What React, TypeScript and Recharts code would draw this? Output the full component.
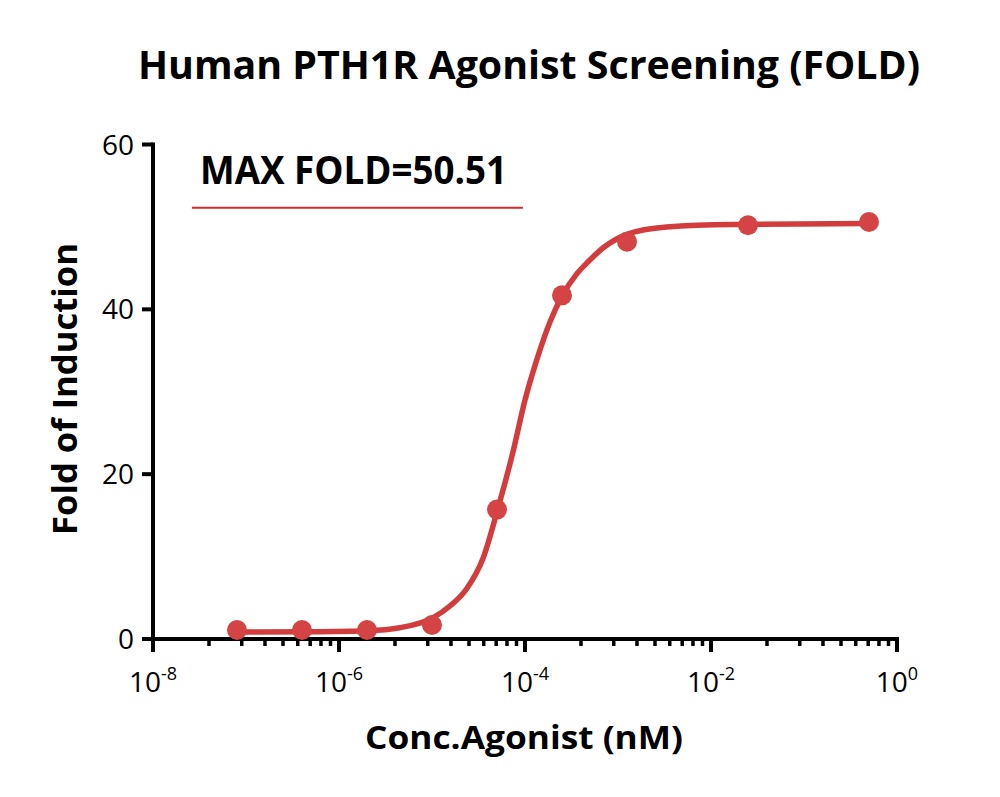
import React from "react";
import { ComposedChart, Line, Scatter, XAxis, YAxis, ReferenceLine } from "recharts";

// Measured data points (concentration in nM, fold of induction)
const concentrations = [8e-8, 4e-7, 2e-6, 1e-5, 5e-5, 2.5e-4, 1.25e-3, 0.025, 0.5];
const foldValues = [1.09, 1.09, 1.09, 1.7, 15.7, 41.7, 48.2, 50.2, 50.6];

// Fitted curve
const curveConc = [8e-8, 1.1e-7, 5.75e-7, 2e-6, 4.5e-6, 1.03e-5, 1.56e-5, 2.36e-5, 3.54e-5, 5.1e-5, 7.5e-5, 1e-4, 1.34e-4, 1.86e-4, 2.5e-4, 3.6e-4, 4.8e-4, 7e-4, 1.24e-3, 3.34e-3, 1.73e-2, 0.5];
const curveFold = [0.85, 0.85, 0.89, 1.0, 1.37, 2.6, 4.0, 6.1, 9.8, 15.8, 22.9, 29.0, 33.9, 38.5, 41.6, 44.3, 45.8, 47.5, 49.1, 50.0, 50.3, 50.4];

const yTicks = [0, 20, 40, 60];
// Major ticks every two decades; minor ticks at k^2 times each major value
const majorExponents = [-8, -6, -4, -2, 0];
const minorFactors = [4, 9, 16, 25, 36, 49, 64, 81];

const title = "Human PTH1R Agonist Screening (FOLD)";
const xLabel = "Conc.Agonist (nM)";
const yLabel = "Fold of Induction";
const maxFoldLabel = "MAX FOLD=50.51";
const maxFoldLineY = 52.34;
const maxFoldLineX = [2.62e-8, 9.5e-5];

const pointData = concentrations.map((x, i) => ({ x, y: foldValues[i] }));
const curveData = curveConc.map((x, i) => ({ x, y: curveFold[i] }));

const xTicks: number[] = [];
majorExponents.forEach((d) => {
  xTicks.push(Math.pow(10, d));
  if (d < 0) minorFactors.forEach((m) => xTicks.push(m * Math.pow(10, d)));
});

const RED = "#d23c3c";
const FONT = "'Open Sans', 'DejaVu Sans', sans-serif";

const XTick = (props: any) => {
  const { x, y, payload } = props;
  const v = payload.value;
  const lg = Math.log10(v);
  const exp = Math.round(lg);
  const isMajor = Math.abs(lg - exp) < 1e-6 && exp % 2 === 0;
  return (
    <g>
      <line x1={x} x2={x} y1={y} y2={y + (isMajor ? 13 : 7)} stroke="#000" strokeWidth={isMajor ? 4 : 3.5} />
      {isMajor && (
        <text x={x} y={y + 53} textAnchor="middle" fontFamily={FONT} fill="#000">
          <tspan fontSize={28}>10</tspan>
          <tspan fontSize={18} dy={-12}>{String(exp)}</tspan>
        </text>
      )}
    </g>
  );
};

const YTick = (props: any) => {
  const { x, y, payload } = props;
  return (
    <g>
      <line x1={x} x2={x - 11} y1={y} y2={y} stroke="#000" strokeWidth={4} />
      <text x={x - 19} y={y + 10} textAnchor="end" fontFamily={FONT} fontSize={28} fill="#000">
        {payload.value}
      </text>
    </g>
  );
};

const Dot = (props: any) => {
  const { cx, cy } = props;
  if (cx == null || cy == null) return null;
  return <circle cx={cx} cy={cy} r={10} fill="#d44444" />;
};

export default function App() {
  return (
    <div style={{ position: "absolute", left: 0, top: 0, width: 1000, height: 797, background: "#fff" }}>
      <div style={{ position: "absolute", left: 0, top: 0 }}>
        <ComposedChart
          width={1000}
          height={797}
          margin={{ top: 144.5, right: 103, bottom: 157, left: 152 }}
        >
          <XAxis
            dataKey="x"
            type="number"
            scale="log"
            domain={[1e-8, 1]}
            allowDataOverflow
            ticks={xTicks}
            interval={0}
            tickSize={0}
            tickMargin={0}
            tickLine={false}
            height={1}
            tick={<XTick />}
            axisLine={{ stroke: "#000", strokeWidth: 4, strokeLinecap: "square" }}
          />
          <YAxis
            type="number"
            domain={[0, 60]}
            ticks={yTicks}
            interval={0}
            tickSize={0}
            tickMargin={0}
            tickLine={false}
            width={1}
            tick={<YTick />}
            axisLine={{ stroke: "#000", strokeWidth: 4, strokeLinecap: "square" }}
          />
          <ReferenceLine
            segment={[
              { x: maxFoldLineX[0], y: maxFoldLineY },
              { x: maxFoldLineX[1], y: maxFoldLineY },
            ]}
            stroke="#d42a2a"
            strokeWidth={2}
            ifOverflow="visible"
          />
          <Line
            data={curveData}
            dataKey="y"
            type="monotone"
            stroke={RED}
            strokeWidth={5.5}
            dot={false}
            activeDot={false}
            isAnimationActive={false}
          />
          <Scatter data={pointData} dataKey="y" shape={<Dot />} isAnimationActive={false} />
        </ComposedChart>
      </div>
      <svg
        width={1000}
        height={797}
        style={{ position: "absolute", left: 0, top: 0, pointerEvents: "none" }}
      >
        <text x={138} y={78.5} fontFamily={FONT} fontWeight={700} fontSize={40} textLength={782} lengthAdjust="spacingAndGlyphs" fill="#000">
          {title}
        </text>
        <text x={200} y={183.5} fontFamily={FONT} fontWeight={700} fontSize={40} textLength={307} lengthAdjust="spacingAndGlyphs" fill="#000">
          {maxFoldLabel}
        </text>
        <text x={365} y={748.5} fontFamily={FONT} fontWeight={700} fontSize={33} textLength={318} lengthAdjust="spacingAndGlyphs" fill="#000">
          {xLabel}
        </text>
        <text
          x={77}
          y={389}
          transform="rotate(-90, 77, 389)"
          textAnchor="middle"
          fontFamily={FONT}
          fontWeight={700}
          fontSize={34}
          textLength={292}
          lengthAdjust="spacingAndGlyphs"
          fill="#000"
        >
          {yLabel}
        </text>
      </svg>
    </div>
  );
}
